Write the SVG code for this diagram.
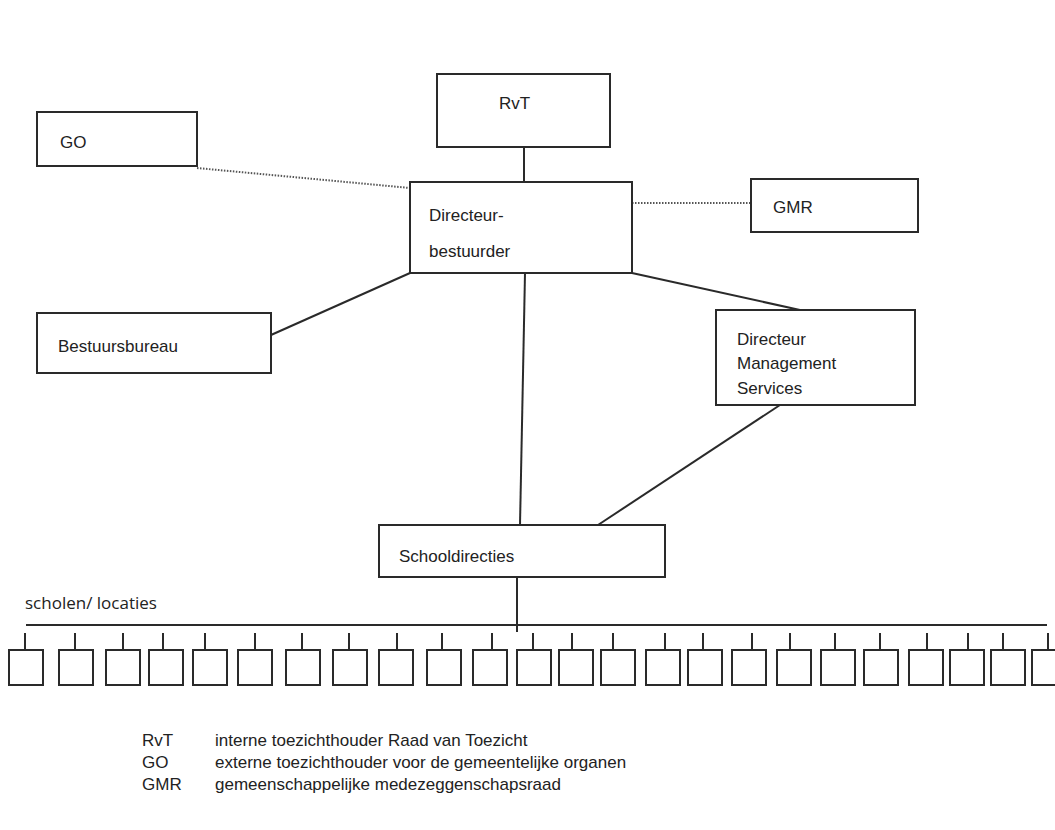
<svg xmlns="http://www.w3.org/2000/svg" width="1055" height="830" viewBox="0 0 1055 830">
<style>
.box{fill:#fff;stroke:#2a2a2a;stroke-width:2}
.lbl{font-family:"Liberation Sans",Arial,sans-serif;font-size:17px;fill:#222}
.ln{stroke:#2a2a2a;stroke-width:2;fill:none}
.dot{stroke:#555;stroke-width:2;stroke-dasharray:1.5 1.5;fill:none}
.sb{fill:#fff;stroke:#2a2a2a;stroke-width:2}
.leg{font-family:"Liberation Sans",Arial,sans-serif;font-size:17px;fill:#222}
.cal{font-family:"Open Sans","Liberation Sans",sans-serif;font-size:17px;fill:#222}
</style>
<rect width="1055" height="830" fill="#fff"/>
<g id="connectors">
<line class="ln" x1="524" y1="147" x2="524" y2="182"/>
<line class="dot" x1="197" y1="168" x2="410" y2="188"/>
<line class="dot" x1="632" y1="203" x2="751" y2="203"/>
<line class="ln" x1="271" y1="335" x2="410" y2="273"/>
<line class="ln" x1="525" y1="273" x2="520" y2="525"/>
<line class="ln" x1="632" y1="273" x2="800" y2="310"/>
<line class="ln" x1="780" y1="405" x2="598" y2="525"/>
<line class="ln" x1="517" y1="577" x2="517" y2="632"/>
<line class="ln" x1="26" y1="625" x2="1047" y2="625"/>
</g>
<g id="RvT"><rect class="box" x="437" y="74" width="173" height="73"/><text class="lbl" x="499" y="109">RvT</text></g>
<g id="GO"><rect class="box" x="37" y="112" width="160" height="54"/><text class="lbl" x="60" y="148">GO</text></g>
<g id="DirecteurBestuurder"><rect class="box" x="410" y="182" width="222" height="91"/><text class="lbl" x="429" y="221">Directeur-</text><text class="lbl" x="429" y="257">bestuurder</text></g>
<g id="GMR"><rect class="box" x="751" y="179" width="167" height="53"/><text class="lbl" x="773" y="213">GMR</text></g>
<g id="Bestuursbureau"><rect class="box" x="37" y="313" width="234" height="60"/><text class="lbl" x="58" y="352">Bestuursbureau</text></g>
<g id="DMS"><rect class="box" x="716" y="310" width="199" height="95"/><text class="lbl" x="737" y="345">Directeur</text><text class="lbl" x="737" y="369">Management</text><text class="lbl" x="737" y="394">Services</text></g>
<g id="Schooldirecties"><rect class="box" x="379" y="525" width="286" height="52"/><text class="lbl" x="399" y="562">Schooldirecties</text></g>
<text class="cal" x="25" y="609">scholen/ locaties</text>
<g id="scholen">
<g class="ln">
<line x1="25" y1="633" x2="25" y2="650"/><line x1="75" y1="633" x2="75" y2="650"/><line x1="123" y1="633" x2="123" y2="650"/><line x1="163" y1="633" x2="163" y2="650"/><line x1="205" y1="633" x2="205" y2="650"/><line x1="255" y1="633" x2="255" y2="650"/><line x1="302" y1="633" x2="302" y2="650"/><line x1="349" y1="633" x2="349" y2="650"/><line x1="397" y1="633" x2="397" y2="650"/><line x1="442" y1="633" x2="442" y2="650"/><line x1="492" y1="633" x2="492" y2="650"/><line x1="533" y1="633" x2="533" y2="650"/><line x1="572" y1="633" x2="572" y2="650"/><line x1="613" y1="633" x2="613" y2="650"/><line x1="665" y1="633" x2="665" y2="650"/><line x1="703" y1="633" x2="703" y2="650"/><line x1="752" y1="633" x2="752" y2="650"/><line x1="790" y1="633" x2="790" y2="650"/><line x1="835" y1="633" x2="835" y2="650"/><line x1="880" y1="633" x2="880" y2="650"/><line x1="927" y1="633" x2="927" y2="650"/><line x1="968" y1="633" x2="968" y2="650"/><line x1="1003" y1="633" x2="1003" y2="650"/><line x1="1048" y1="633" x2="1048" y2="650"/>
</g>
<rect class="sb" x="9" y="650" width="34" height="35"/><rect class="sb" x="59" y="650" width="34" height="35"/><rect class="sb" x="106" y="650" width="34" height="35"/><rect class="sb" x="149" y="650" width="34" height="35"/><rect class="sb" x="193" y="650" width="34" height="35"/><rect class="sb" x="238" y="650" width="34" height="35"/><rect class="sb" x="286" y="650" width="34" height="35"/><rect class="sb" x="333" y="650" width="34" height="35"/><rect class="sb" x="379" y="650" width="34" height="35"/><rect class="sb" x="427" y="650" width="34" height="35"/><rect class="sb" x="473" y="650" width="34" height="35"/><rect class="sb" x="517" y="650" width="34" height="35"/><rect class="sb" x="559" y="650" width="34" height="35"/><rect class="sb" x="601" y="650" width="34" height="35"/><rect class="sb" x="646" y="650" width="34" height="35"/><rect class="sb" x="688" y="650" width="34" height="35"/><rect class="sb" x="732" y="650" width="34" height="35"/><rect class="sb" x="777" y="650" width="34" height="35"/><rect class="sb" x="821" y="650" width="34" height="35"/><rect class="sb" x="864" y="650" width="34" height="35"/><rect class="sb" x="909" y="650" width="34" height="35"/><rect class="sb" x="950" y="650" width="34" height="35"/><rect class="sb" x="991" y="650" width="34" height="35"/><rect class="sb" x="1032" y="650" width="34" height="35"/>
</g>
<g id="legend">
<text class="leg" x="142" y="746">RvT</text><text class="leg" x="215" y="746">interne toezichthouder Raad van Toezicht</text>
<text class="leg" x="142" y="768">GO</text><text class="leg" x="215" y="768">externe toezichthouder voor de gemeentelijke organen</text>
<text class="leg" x="142" y="790">GMR</text><text class="leg" x="215" y="790">gemeenschappelijke medezeggenschapsraad</text>
</g>
</svg>
